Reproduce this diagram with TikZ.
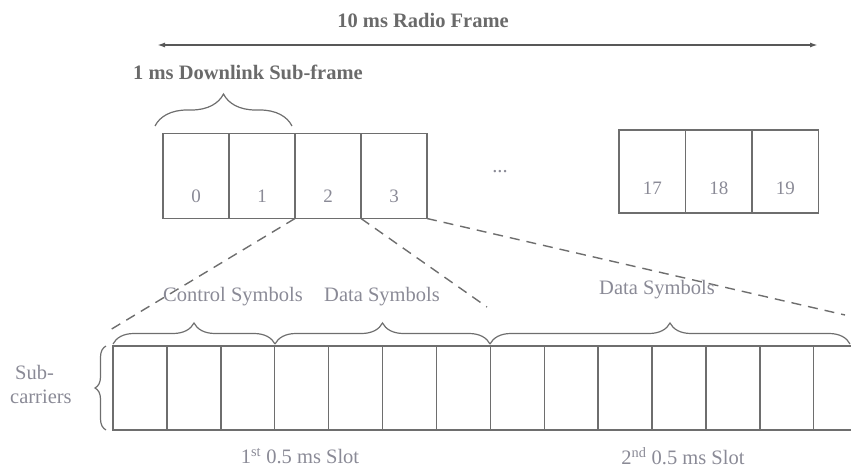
\documentclass[tikz,border=0pt]{standalone}
\usepackage{fontspec}
\setmainfont{Liberation Serif}
\usetikzlibrary{decorations.pathreplacing,arrows.meta}
\definecolor{linegray}{HTML}{6E6E6E}
\definecolor{txtgray}{HTML}{8A8A96}
\definecolor{boldgray}{HTML}{6A6A6A}
\tikzset{
  ln/.style={draw=linegray,line width=1.4pt},
  sfbox/.style={ln,minimum width=66pt,minimum height=85pt,inner sep=0pt,outer sep=0pt},
  sfboxr/.style={ln,minimum width=66.5pt,minimum height=83pt,inner sep=0pt,outer sep=0pt},
  symcell/.style={ln,minimum width=53.9pt,minimum height=84pt,inner sep=0pt,outer sep=0pt},
  lab/.style={text=txtgray,font=\fontsize{20.5}{24}\selectfont,inner sep=0pt},
  numlab/.style={text=txtgray,font=\fontsize{19}{22}\selectfont,inner sep=0pt},
  ttl/.style={text=boldgray,font=\bfseries\fontsize{20.5}{24}\selectfont,inner sep=0pt},
  brc/.style={draw=linegray,line width=1.2pt,decorate,decoration={brace,amplitude=#1}},
  dsh/.style={draw=linegray,line width=1.4pt,dash pattern=on 10pt off 7pt}
}
\begin{document}
\begin{tikzpicture}[x=1pt,y=-1pt]
\useasboundingbox (0,0) rectangle (851,468);
\clip (0,0) rectangle (851,468);
% title and arrow
\node[ttl] (title) at (423,20) {10 ms Radio Frame};
\coordinate (al) at (157,45);
\coordinate (ar) at (818,45);
\draw[draw=linegray!80!black,line width=1.8pt,{Latex[length=8pt,width=5pt]}-{Latex[length=8pt,width=5pt]}] (al) -- (ar);
\node[ttl,anchor=west] (sflab) at (133,72) {1 ms Downlink Sub-frame};
% top brace
\coordinate (tb1) at (155,126);
\coordinate (tb2) at (292,126);
\draw[brc=32pt] (tb1) -- (tb2);
% sub-frame boxes
\foreach \i/\x in {0/196,1/262,2/328,3/394}{
  \node[sfbox] (s\i) at (\x,176) {};
  \node[numlab] (n\i) at ([yshift=22pt]s\i.south) {\i};
}
\node[lab] (dots) at (500,172) {...};
\foreach \i/\x in {17/652.25,18/718.75,19/785.25}{
  \node[sfboxr] (s\i) at (\x,171.5) {};
  \node[numlab] (n\i) at ([yshift=25pt]s\i.south) {\i};
}
% symbol grid
\foreach \i in {0,...,14}{
  \node[symcell] (g\i) at ({113+26.95+53.9*\i},388) {};
}
% dashed zoom lines
\coordinate (d1) at (110,330);
\coordinate (d2) at (487,307);
\coordinate (d3) at (845,315);
\draw[dsh] (s2.south west) -- (d1);
\draw[dsh] (s2.south east) -- (d2);
\draw[dsh] (s3.south east) -- (d3);
% braces over the grid
\coordinate (b0) at (113,344);
\coordinate (b1) at (275,344);
\coordinate (b2) at (490,344);
\coordinate (b3) at (850,344);
\draw[brc=21pt] (b0) -- (b1);
\draw[brc=21pt] (b1) -- (b2);
\draw[brc=21pt] (b2) -- (b3);
\node[lab] (ctrl) at (233,297) {Control Symbols};
\node[lab] (data1) at (382,297) {Data Symbols};
\node[lab] (data2) at (657,290) {Data Symbols};
% sub-carriers brace
\coordinate (sc1) at (106,430);
\coordinate (sc2) at (106,346);
\draw[brc=11pt] (sc1) -- (sc2);
\node[lab,anchor=west] (sub) at (15,372) {Sub-};
\node[lab,anchor=west] (car) at (10,397) {carriers};
% slot labels
\node[lab] (slot1) at (300,456) {1\textsuperscript{st} 0.5 ms Slot};
\node[lab] (slot2) at (683,456) {2\textsuperscript{nd} 0.5 ms Slot};
\end{tikzpicture}
\end{document}
